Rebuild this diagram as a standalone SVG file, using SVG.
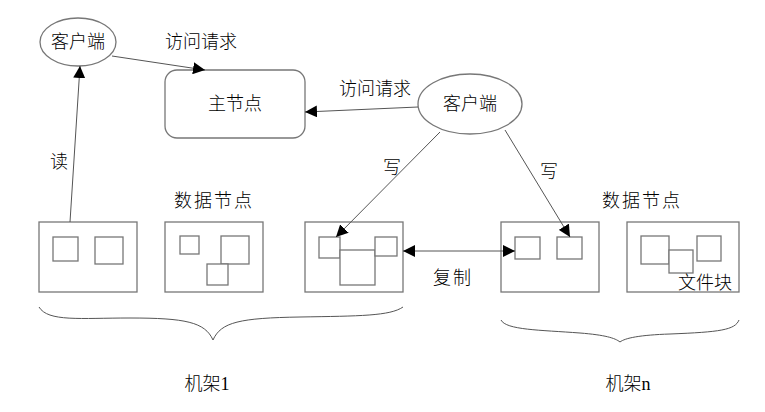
<svg xmlns="http://www.w3.org/2000/svg" width="765" height="412" viewBox="0 0 765 412">
<defs><marker id="a" viewBox="0 0 10 10" refX="10" refY="5" markerWidth="12" markerHeight="12" markerUnits="userSpaceOnUse" orient="auto-start-reverse"><path d="M0,0L10,5L0,10z" fill="#000"/></marker></defs>
<style>.b{fill:#fff;stroke:#777;stroke-width:1.3}.t{font-family:"Liberation Serif","Noto Sans CJK SC",serif;font-size:18px;font-weight:300;fill:#000}.c{stroke:#555;stroke-width:1;fill:none}.w{letter-spacing:2px}</style>
<rect width="765" height="412" fill="#fff"/>
<g id="client1"><ellipse class="b" cx="78" cy="42" rx="38" ry="24"/><text class="t" x="78" y="48" text-anchor="middle">客户端</text></g>
<g id="master"><rect class="b" x="165" y="70" width="140" height="68" rx="12"/><text class="t" x="235" y="110" text-anchor="middle">主节点</text></g>
<g id="client2"><ellipse class="b" cx="470" cy="104" rx="52" ry="30"/><text class="t" x="470" y="110" text-anchor="middle">客户端</text></g>
<g id="d1"><rect class="b" x="39" y="222" width="98" height="70"/><rect class="b" x="53" y="237" width="25" height="24"/><rect class="b" x="95" y="237" width="28" height="27"/></g>
<g id="d2"><rect class="b" x="165" y="222" width="98" height="70"/><rect class="b" x="180" y="236" width="19" height="18"/><rect class="b" x="221" y="236" width="28" height="28"/><rect class="b" x="207" y="264" width="21" height="21"/></g>
<g id="d3"><rect class="b" x="305" y="222" width="98" height="70"/><rect class="b" x="319" y="237" width="21" height="21"/><rect class="b" x="340" y="250" width="35" height="35"/><rect class="b" x="375" y="237" width="22" height="19"/></g>
<g id="d4"><rect class="b" x="501" y="222" width="98" height="70"/><rect class="b" x="515" y="237" width="25" height="22"/><rect class="b" x="557" y="237" width="25" height="22"/></g>
<g id="d5"><rect class="b" x="627" y="222" width="112" height="70"/><rect class="b" x="641" y="236" width="28" height="28"/><rect class="b" x="669" y="250" width="24" height="23"/><rect class="b" x="697" y="236" width="24" height="25"/><text class="t" x="705" y="289" text-anchor="middle">文件块</text></g>
<g id="connectors">
<line class="c" x1="70" y1="222" x2="80" y2="66" marker-end="url(#a)"/>
<line class="c" x1="112" y1="56" x2="205" y2="70" marker-end="url(#a)"/>
<line class="c" x1="418" y1="107" x2="305" y2="112" marker-end="url(#a)"/>
<line class="c" x1="440" y1="132" x2="336" y2="237" marker-end="url(#a)"/>
<line class="c" x1="505" y1="130" x2="570" y2="237" marker-end="url(#a)"/>
<line class="c" x1="403" y1="251" x2="515" y2="251" marker-start="url(#a)" marker-end="url(#a)"/>
<path class="c" d="M39,307C48,322 80,318 130,318C185,318 205,322 213,340C221,322 240,318 300,317C360,316 390,316 403,307"/>
<path class="c" d="M501,320C506,330 540,330 580,333C605,335 615,338 620,342C625,338 640,335 670,334C720,332 735,330 739,320"/>
</g>
<text class="t" x="201" y="48" text-anchor="middle">访问请求</text>
<text class="t" x="375" y="95" text-anchor="middle">访问请求</text>
<text class="t" x="59" y="168" text-anchor="middle">读</text>
<text class="t" x="392" y="174" text-anchor="middle">写</text>
<text class="t" x="549" y="178" text-anchor="middle">写</text>
<text class="t w" x="214" y="207" text-anchor="middle">数据节点</text>
<text class="t w" x="642" y="207" text-anchor="middle">数据节点</text>
<text class="t w" x="453" y="284" text-anchor="middle">复制</text>
<text class="t" x="207" y="390" text-anchor="middle">机架1</text>
<text class="t" x="628" y="390" text-anchor="middle">机架n</text>
</svg>
